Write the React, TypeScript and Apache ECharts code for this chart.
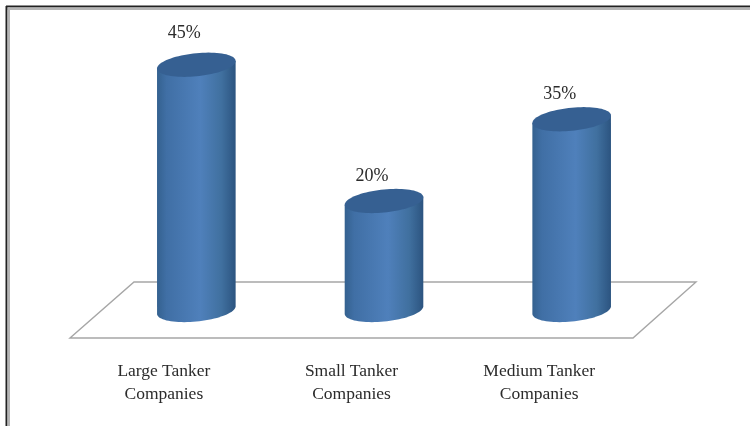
import React, { useEffect, useRef } from "react";
import * as echarts from "echarts";

const categories = ["Large Tanker\nCompanies", "Small Tanker\nCompanies", "Medium Tanker\nCompanies"];
const shares = [45, 20, 35];

const FONT = "'Liberation Serif', 'Times New Roman', serif";
const DEPTH_X = 32.5;
const DEPTH_Y = 28;
const RX = 39.5;
const RY = 11.5;
const TILT = -6;
const LABEL_LIFT = [33, 26, 26];

function cylinderPath(cx: number, topY: number, baseY: number) {
  const rad = (TILT * Math.PI) / 180;
  const c = Math.cos(rad);
  const s = Math.sin(rad);
  const t0 = Math.atan2(-RY * s, RX * c);
  const at = (t: number, y: number) =>
    `${cx + RX * Math.cos(t) * c - RY * Math.sin(t) * s} ${y + RX * Math.cos(t) * s + RY * Math.sin(t) * c}`;
  const steps = 40;
  const lower: string[] = [];
  for (let k = 0; k <= steps; k++) lower.push(at(t0 + Math.PI - (k * Math.PI) / steps, baseY));
  const ring: string[] = [];
  for (let k = 0; k < steps * 2; k++) ring.push(at(t0 + (k * Math.PI) / steps, topY));
  const body = `M${at(t0 + Math.PI, topY)} L${lower.join(" L")} L${at(t0, topY)} Z`;
  const top = `M${ring.join(" L")} Z`;
  return { body, top };
}

export default function App() {
  const ref = useRef<HTMLDivElement>(null);
  useEffect(() => {
    document.body.style.margin = "0";
    document.body.style.background = "#fff";
    const chart = echarts.init(ref.current!, null, { renderer: "svg" });
    chart.setOption({
      animation: false,
      backgroundColor: "#ffffff",
      grid: { left: 70, width: 563, top: 65.5, height: 272.5 },
      xAxis: {
        type: "category",
        data: categories,
        axisLine: { show: false },
        axisTick: { show: false },
        axisLabel: {
          color: "#2b2b2b",
          fontFamily: FONT,
          fontSize: 17.5,
          lineHeight: 23,
          margin: 20,
          interval: 0,
        },
      },
      yAxis: { type: "value", min: 0, max: 50, show: false },
      graphic: [
        { type: "rect", shape: { x: 6, y: 5.5, width: 744, height: 2 }, style: { fill: "#222222" }, z: 1 },
        { type: "rect", shape: { x: 6, y: 7.5, width: 744, height: 2.5 }, style: { fill: "#b4b4b4" }, z: 1 },
        { type: "rect", shape: { x: 5.5, y: 6, width: 2, height: 420 }, style: { fill: "#222222" }, z: 1 },
        { type: "rect", shape: { x: 7.5, y: 7.5, width: 2.5, height: 419 }, style: { fill: "#b4b4b4" }, z: 1 },
        {
          type: "polygon",
          shape: { points: [[70, 338], [134, 282], [696, 282], [633, 338]] },
          style: { fill: "#ffffff", stroke: "#a6a6a6", lineWidth: 1.4 },
          z: 1,
        },
      ],
      series: [
        {
          type: "custom",
          z: 5,
          data: shares,
          encode: { x: 0, y: 1 },
          renderItem: (params: any, api: any) => {
            const i = api.value(0);
            const v = api.value(1);
            const [x, yTop] = api.coord([i, v]);
            const [, yBase] = api.coord([i, 0]);
            const cx = x + DEPTH_X;
            const topY = yTop - DEPTH_Y;
            const baseY = yBase - DEPTH_Y;
            const { body, top } = cylinderPath(cx, topY, baseY);
            return {
              type: "group",
              children: [
                {
                  type: "path",
                  shape: { pathData: body },
                  style: {
                    fill: new echarts.graphic.LinearGradient(0, 0, 1, 0, [
                      { offset: 0, color: "#34618f" },
                      { offset: 0.12, color: "#406fa5" },
                      { offset: 0.55, color: "#4f80bb" },
                      { offset: 0.82, color: "#40709f" },
                      { offset: 1, color: "#2c5480" },
                    ]),
                  },
                },
                { type: "path", shape: { pathData: top }, style: { fill: "#366092" } },
                {
                  type: "text",
                  style: {
                    x: cx - 12,
                    y: topY - LABEL_LIFT[i],
                    text: `${shares[i]}%`,
                    fill: "#2b2b2b",
                    font: `18px ${FONT}`,
                    align: "center",
                    verticalAlign: "middle",
                  },
                },
              ],
            };
          },
        },
      ],
    });
    return () => chart.dispose();
  }, []);
  return <div ref={ref} style={{ width: 750, height: 426, filter: "blur(0.5px)" }} />;
}
